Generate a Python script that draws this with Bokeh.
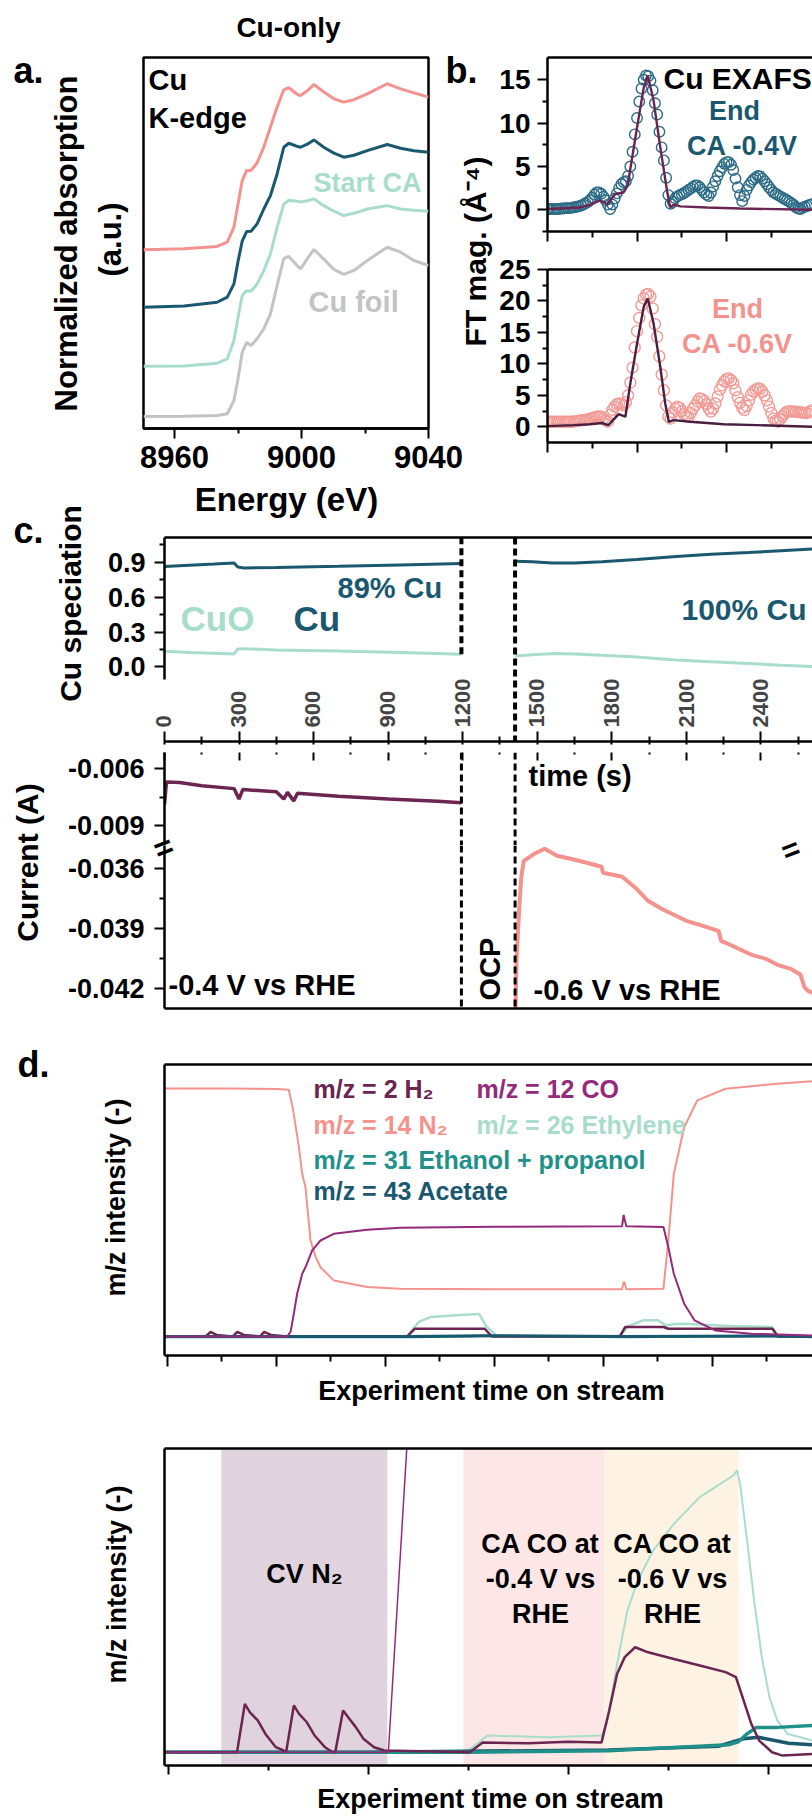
import math
from bokeh.plotting import figure
from bokeh.models import (Range1d, LinearAxis, FixedTicker, PrintfTickFormatter,
                          Label, Span, BoxAnnotation, CustomLabelingPolicy)
from bokeh.layouts import row, column
from bokeh.embed import file_html
from bokeh.resources import INLINE

FONT = "Liberation Sans"

PINK = "#F4928D"
TEAL = "#1A5870"
MINT = "#A8DDCC"
GREY = "#C3C3C3"
PLUM = "#6C2451"
PLUM_DARK = "#4A1E40"
MAGENTA = "#932A7C"
TEAL_MID = "#1F918A"
CIRCLE_TEAL = "#2C6B85"
CIRCLE_PINK = "#F39A95"
BAND_CV = "#E0D3DE"
BAND_CA04 = "#FCE6E6"
BAND_CA06 = "#FEF2E3"

# ---------------- a. Cu K-edge XANES ----------------
energy_ev = [8950.2, 8963.0, 8973.4, 8976.6, 8978.7, 8980.0, 8981.3, 8982.7, 8984.1,
             8986.0, 8988.1, 8990.2, 8992.3, 8994.4, 8996.0, 8998.6, 8999.7, 9001.8,
             9003.9, 9007.0, 9010.2, 9013.3, 9016.5, 9020.7, 9027.0, 9031.2, 9035.4, 9040.0]
xanes_cu_foil = [0.000, 0.002, 0.006, 0.017, 0.100, 0.238, 0.400, 0.463, 0.444, 0.486,
                 0.548, 0.642, 0.819, 0.988, 1.000, 0.944, 0.923, 0.986, 1.044, 0.984,
                 0.919, 0.888, 0.913, 0.975, 1.058, 1.027, 0.975, 0.944]
xanes_start_ca = [0.000, 0.002, 0.019, 0.046, 0.161, 0.306, 0.442, 0.472, 0.469, 0.514,
                  0.598, 0.702, 0.869, 1.014, 1.038, 1.031, 1.027, 1.034, 1.046, 1.004,
                  0.969, 0.942, 0.956, 0.983, 1.004, 0.983, 0.975, 0.969]
xanes_end_04 = [0.000, 0.008, 0.031, 0.063, 0.146, 0.288, 0.413, 0.473, 0.475, 0.521,
                0.614, 0.698, 0.833, 1.000, 1.025, 1.006, 1.000, 1.019, 1.046, 1.000,
                0.963, 0.938, 0.950, 0.979, 1.017, 0.994, 0.978, 0.969]
xanes_end_06 = [0.000, 0.006, 0.021, 0.048, 0.142, 0.288, 0.433, 0.496, 0.496, 0.544,
                0.642, 0.767, 0.892, 1.000, 1.013, 0.972, 0.964, 0.994, 1.033, 0.986,
                0.944, 0.923, 0.938, 0.975, 1.038, 1.006, 0.981, 0.954]
xanes_offsets = [0.075, 0.389, 0.758, 1.117]   # foil, start CA, end -0.4 V, end -0.6 V
energy_ticks = [8960, 9000, 9040]
energy_minor = [8980, 9020]

# ---------------- b. EXAFS |FT| ----------------
exafs_r = [0.00, 0.05, 0.10, 0.15, 0.20, 0.25, 0.30, 0.35, 0.40, 0.45, 0.50, 0.55, 0.60,
           0.65, 0.70, 0.75, 0.80, 0.85, 0.90, 0.95, 1.00, 1.05, 1.10, 1.15, 1.20, 1.25,
           1.30, 1.35, 1.40, 1.45, 1.50, 1.55, 1.60, 1.65, 1.70, 1.75, 1.80, 1.85, 1.90,
           1.95, 2.00, 2.05, 2.10, 2.15, 2.20, 2.25, 2.30, 2.35, 2.40, 2.45, 2.50, 2.55,
           2.60, 2.65, 2.70, 2.75, 2.80, 2.85, 2.90, 2.95, 3.00, 3.05, 3.10, 3.15, 3.20,
           3.25, 3.30, 3.35, 3.40, 3.45, 3.50, 3.55, 3.60, 3.65, 3.70, 3.75, 3.80, 3.85,
           3.90, 3.95, 4.00, 4.05, 4.10, 4.15, 4.20, 4.25, 4.30, 4.35, 4.40, 4.45, 4.50,
           4.55, 4.60, 4.65, 4.70, 4.75, 4.80, 4.85, 4.90, 4.95, 5.00, 5.05, 5.10, 5.15,
           5.20, 5.25, 5.30, 5.35, 5.40, 5.45, 5.50, 5.55, 5.60, 5.65, 5.70, 5.75, 5.80,
           5.85, 5.90]
exafs_mag_04 = [0.1, 0.1, 0.1, 0.1, 0.1, 0.1, 0.15, 0.15, 0.2, 0.2, 0.2, 0.25, 0.3,
                0.35, 0.4, 0.5, 0.6, 0.75, 0.9, 1.1, 1.4, 1.75, 2.0, 2.0, 1.85, 1.5,
                1.1, 0.6, 0.1, 0.6, 1.3, 1.9, 2.5, 2.95, 3.2, 3.3, 3.9, 5.0, 6.7,
                8.7, 10.6, 12.5, 14.0, 15.0, 15.5, 15.4, 14.9, 13.8, 12.3, 11.0, 9.0, 7.2,
                5.7, 3.7, 1.7, 0.7, 0.9, 1.35, 1.55, 1.7, 1.8, 1.95, 2.1, 2.3, 2.45,
                2.65, 2.8, 2.8, 2.6, 2.3, 2.0, 1.75, 1.6, 2.0, 2.7, 3.3, 3.9, 4.45,
                4.9, 5.3, 5.5, 5.5, 5.2, 4.6, 3.6, 2.6, 1.7, 1.0, 1.6, 2.3, 2.8,
                3.2, 3.5, 3.7, 3.9, 3.85, 3.6, 3.3, 2.95, 2.6, 2.3, 2.0, 1.85, 1.7,
                1.55, 1.4, 1.25, 1.1, 0.95, 0.75, 0.55, 0.3, 0.15, 0.1, 0.25, 0.35, 0.45,
                0.55, 0.65]
exafs_mag_06 = [0.8, 0.8, 0.8, 0.8, 0.8, 0.8, 0.8, 0.8, 0.8, 0.8, 0.8, 0.8, 0.85,
                0.9, 0.95, 1.0, 1.05, 1.1, 1.2, 1.3, 1.4, 1.5, 1.6, 1.65, 1.6, 1.3,
                1.0, 0.8, 1.9, 2.7, 3.2, 3.6, 3.7, 3.6, 3.4, 3.9, 5.0, 7.0, 9.4,
                12.6, 15.2, 17.3, 19.3, 20.4, 21.0, 21.1, 20.7, 18.8, 16.3, 14.3, 11.2, 8.3,
                5.8, 3.4, 1.6, 1.3, 2.3, 2.9, 3.2, 3.0, 2.5, 2.0, 1.7, 1.6, 2.2,
                2.9, 3.4, 4.0, 4.5, 4.4, 4.1, 3.6, 2.9, 2.4, 2.9, 3.7, 4.8, 5.9,
                6.6, 7.2, 7.6, 7.7, 7.4, 6.9, 5.8, 4.7, 3.8, 3.0, 2.65, 3.3, 4.2,
                5.1, 5.6, 5.9, 6.1, 6.0, 5.6, 5.0, 4.2, 3.2, 2.2, 1.3, 1.0, 0.8,
                1.2, 1.7, 2.1, 2.4, 2.45, 2.45, 2.4, 2.4, 2.35, 2.3, 2.25, 2.2, 2.2,
                2.4, 2.6]
fit_r_04 = [0.0, 0.73, 0.95, 1.18, 1.33, 1.51, 1.70, 1.79, 2.0, 2.15, 2.24, 2.37, 2.52,
            2.67, 2.74, 2.82, 2.97, 3.56, 4.31, 5.92]
fit_mag_04 = [0.1, 0.27, 0.6, 1.1, 0.65, 1.8, 2.0, 2.8, 9.5, 14.1, 15.5, 12.6, 7.2, 2.2,
              0.3, 0.6, 0.4, 0.27, 0.15, 0.0]
fit_r_06 = [0.0, 0.58, 0.95, 1.22, 1.36, 1.59, 1.74, 1.85, 2.0, 2.15, 2.24, 2.37, 2.52,
            2.63, 2.71, 2.82, 3.19, 3.94, 4.68, 5.92]
fit_mag_06 = [0.1, 0.26, 0.4, 0.6, 0.26, 2.0, 1.6, 6.9, 13.2, 19.1, 20.4, 16.4, 9.5, 3.7,
              0.8, 1.06, 0.8, 0.4, 0.26, 0.0]
r_ticks = [0, 2, 4, 6]
r_minor = [1, 3, 5]

# ---------------- c. speciation and current ----------------
time_ticks = [0, 300, 600, 900, 1200, 1500, 1800, 2100, 2400]
time_minor = [150, 450, 750, 1050, 1350, 1650, 1950, 2250, 2550]
ca_boundaries = [1195, 1411]          # end of CA at -0.4 V, start of CA at -0.6 V

spec_t_04 = [0, 100, 200, 280, 295, 320, 450, 700, 950, 1195]
spec_cu_04 = [0.865, 0.875, 0.885, 0.895, 0.86, 0.852, 0.855, 0.866, 0.878, 0.89]
spec_cuo_04 = [0.135, 0.125, 0.118, 0.112, 0.155, 0.158, 0.146, 0.138, 0.125, 0.11]
spec_t_06 = [1411, 1480, 1560, 1650, 1760, 1900, 2060, 2200, 2350, 2480, 2608]
spec_cu_06 = [0.91, 0.905, 0.895, 0.895, 0.905, 0.925, 0.95, 0.97, 0.985, 1.0, 1.015]
spec_cuo_06 = [0.095, 0.105, 0.115, 0.112, 0.1, 0.085, 0.06, 0.045, 0.03, 0.015, 0.003]

current_t_04 = [0, 8, 60, 150, 280, 300, 315, 450, 480, 495, 520, 535, 700, 900, 1100, 1195]
current_04 = [-0.0079, -0.0067, -0.00672, -0.0069, -0.00705, -0.0076, -0.0071, -0.00722,
              -0.0076, -0.00725, -0.0077, -0.0073, -0.00745, -0.0076, -0.00772, -0.0078]
current_t_06 = [1413, 1417, 1427, 1436, 1446, 1488, 1530, 1580, 1634, 1700, 1759, 1765,
                1842, 1900, 1946, 2000, 2050, 2100, 2154, 2230, 2240, 2259, 2310, 2363,
                2420, 2467, 2520, 2560, 2575, 2590, 2608]
current_06 = [-0.0430, -0.0405, -0.0381, -0.0364, -0.0356, -0.03525, -0.0350, -0.03535,
              -0.0355, -0.0357, -0.0359, -0.0362, -0.0364, -0.0370, -0.0376, -0.0380,
              -0.0383, -0.0386, -0.0388, -0.0391, -0.0396, -0.0397, -0.0400, -0.0403,
              -0.0405, -0.0408, -0.0410, -0.0413, -0.0419, -0.0421, -0.0422]

# ---------------- d. mass spectrometry ----------------
ms_t_n2 = [-0.055, 1.0, 2.0, 2.226, 2.30, 2.40, 2.472, 2.532, 2.624, 2.72, 2.807, 3.051,
           3.664, 4.275, 6.0, 8.34, 8.37, 8.39, 8.42, 9.10, 9.19, 9.29, 9.48, 9.72, 10.24,
           11.19, 11.835]
ms_n2 = [1.0, 1.0, 0.998, 0.995, 0.92, 0.78, 0.656, 0.602, 0.387, 0.32, 0.279, 0.226,
         0.199, 0.192, 0.19, 0.19, 0.22, 0.215, 0.19, 0.192, 0.387, 0.656, 0.844, 0.952,
         0.999, 1.019, 1.03]
ms_t_co = [-0.055, 2.20, 2.26, 2.318, 2.379, 2.472, 2.532, 2.655, 2.807, 3.051, 3.664,
           4.275, 6.0, 8.34, 8.37, 8.39, 8.42, 9.10, 9.19, 9.29, 9.48, 9.67, 10.05, 10.71,
           11.835]
ms_co = [0.0, 0.0, 0.02, 0.092, 0.172, 0.253, 0.279, 0.347, 0.387, 0.414, 0.430, 0.438,
         0.442, 0.444, 0.49, 0.47, 0.444, 0.441, 0.36, 0.253, 0.132, 0.065, 0.024, 0.011,
         0.004]
ms_t_h2 = [-0.055, 0.7, 0.79, 0.9, 1.2, 1.28, 1.4, 1.7, 1.77, 1.9, 2.2, 4.40, 4.54, 5.82,
           5.95, 8.30, 8.40, 9.10, 9.19, 11.10, 11.20, 11.835]
ms_h2 = [0.0, 0.0, 0.018, 0.006, 0.0, 0.018, 0.006, 0.0, 0.018, 0.006, 0.0, 0.0, 0.031,
         0.031, 0.0, 0.0, 0.038, 0.038, 0.031, 0.031, 0.0, 0.0]
ms_t_c2h4 = [-0.055, 4.40, 4.50, 4.62, 4.83, 5.3, 5.72, 5.85, 6.06, 8.30, 8.45, 8.72, 9.0,
             9.15, 9.3, 9.57, 10.3, 11.09, 11.2, 11.835]
ms_c2h4 = [0.0, 0.0, 0.03, 0.06, 0.078, 0.085, 0.09, 0.04, 0.0, 0.0, 0.04, 0.065, 0.065,
           0.044, 0.05, 0.05, 0.042, 0.038, 0.0, 0.0]
ms_t_etoh = [-0.055, 4.5, 5.8, 8.4, 11.1, 11.835]
ms_etoh = [-0.002, -0.002, 0.002, -0.002, 0.002, -0.002]
ms_t_acet = [-0.055, 4.5, 5.8, 8.4, 11.1, 11.835]
ms_acet = [0.0, 0.0, 0.003, 0.0, 0.002, 0.0]
ms_ticks = [0, 2, 4, 6, 8, 10]
ms_minor = [1, 3, 5, 7, 9, 11]

# zoomed run: CV in N2, then CA in CO at -0.4 V and -0.6 V vs RHE
zoom_bands = [(0.53, 2.19, BAND_CV), (2.95, 4.36, BAND_CA04), (4.36, 5.70, BAND_CA06)]
zoom_t_h2 = [-0.038, 0.687, 0.765, 0.816, 0.894, 0.971, 1.075, 1.152, 1.178, 1.255, 1.307,
             1.385, 1.462, 1.566, 1.643, 1.669, 1.747, 1.798, 1.876, 1.953, 2.057, 2.16,
             3.013, 3.142, 3.6, 4.0, 4.331, 4.408, 4.486, 4.563, 4.667, 4.797, 5.054,
             5.313, 5.571, 5.675, 5.752, 5.829, 5.907, 6.036, 6.14, 6.44]
zoom_h2 = [0.0, 0.0, 0.161, 0.133, 0.106, 0.061, 0.017, 0.006, 0.0, 0.156, 0.128, 0.1,
           0.056, 0.017, 0.0, 0.0, 0.139, 0.117, 0.083, 0.044, 0.017, 0.006, 0.0, 0.033,
           0.03, 0.035, 0.033, 0.139, 0.261, 0.317, 0.35, 0.333, 0.311, 0.289, 0.267,
           0.25, 0.172, 0.094, 0.039, 0.0, -0.011, -0.006]
zoom_t_co = [-0.038, 2.2, 2.40]
zoom_co = [0.0, 0.0, 1.1]
zoom_t_c2h4 = [-0.038, 2.9, 3.013, 3.19, 3.8, 4.331, 4.382, 4.434, 4.512, 4.589, 4.693,
               4.847, 5.054, 5.313, 5.519, 5.649, 5.685, 5.716, 5.778, 5.856, 5.933, 6.01,
               6.088, 6.192, 6.321, 6.44]
zoom_c2h4 = [0.0, 0.0, 0.01, 0.056, 0.05, 0.056, 0.094, 0.194, 0.339, 0.472, 0.572,
             0.672, 0.761, 0.85, 0.894, 0.922, 0.939, 0.894, 0.728, 0.506, 0.317, 0.183,
             0.106, 0.061, 0.05, 0.039]
zoom_t_etoh = [-0.038, 1.0, 2.0, 3.0, 4.4, 5.0, 5.6, 5.7, 5.78, 5.88, 6.09, 6.44]
zoom_etoh = [0.0, 0.0, 0.0, 0.0, 0.005, 0.015, 0.025, 0.035, 0.06, 0.083, 0.083, 0.089]
zoom_t_acet = [-0.038, 2.0, 4.4, 5.5, 5.75, 5.9, 6.05, 6.2, 6.44]
zoom_acet = [0.0, 0.0, 0.008, 0.02, 0.045, 0.05, 0.04, 0.03, 0.025]
zoom_ticks = [0, 2, 4, 6]
zoom_minor = [1, 3, 5]

# tick marks without numbers on the unlabeled axes
NO_LABELS = CustomLabelingPolicy(code="for (const i of indices) indices.unset(i)")


# ---------------- helpers ----------------
def base_fig(w, h, xr, yr, left=0, right=0, top=0, bottom=0):
    p = figure(width=w, height=h, x_range=Range1d(*xr), y_range=Range1d(*yr),
               output_backend="svg", toolbar_location=None,
               x_axis_location=None, y_axis_location=None,
               min_border_left=left, min_border_right=right,
               min_border_top=top, min_border_bottom=bottom)
    p.outline_line_color = None
    p.background_fill_color = "white"
    p.border_fill_color = "white"
    p.grid.visible = False
    return p


def axis(p, side, ticks=(), minor=(), out=0, inn=0, mout=0, minn=0,
         size=None, fmt=None, standoff=0, bounds=None):
    ax = LinearAxis(ticker=FixedTicker(ticks=list(ticks), minor_ticks=list(minor)))
    ax.axis_line_color = "black"
    ax.axis_line_width = 2.5
    ax.major_tick_line_color = "black"
    ax.minor_tick_line_color = "black"
    ax.major_tick_line_width = 2
    ax.minor_tick_line_width = 2
    ax.major_tick_out = out
    ax.major_tick_in = inn
    ax.minor_tick_out = mout
    ax.minor_tick_in = minn
    ax.major_label_standoff = standoff
    if size:
        ax.major_label_text_font = FONT
        ax.major_label_text_font_style = "bold"
        ax.major_label_text_font_size = f"{size}px"
        ax.major_label_text_color = "black"
        if fmt:
            ax.formatter = PrintfTickFormatter(format=fmt)
    else:
        ax.major_label_policy = NO_LABELS
        ax.major_label_text_font_size = "1px"
    if bounds is not None:
        ax.bounds = bounds
    p.add_layout(ax, side)
    return ax


# ---------------- a ----------------
a_x = (8950.2, 9040.0)
a_y = (0.0, 2.319)
fig_a = base_fig(495, 484, a_x, a_y, left=143, right=67, top=57, bottom=56)
fig_a.outline_line_color = "black"
fig_a.outline_line_width = 2.5
axis(fig_a, "below", energy_ticks, energy_minor, out=10, mout=5, size=31, fmt="%d",
     standoff=7)
spectra = [(xanes_cu_foil, GREY), (xanes_start_ca, MINT), (xanes_end_04, TEAL),
           (xanes_end_06, PINK)]
for (mu, col), off in zip(spectra, xanes_offsets):
    fig_a.line(energy_ev, [m + off for m in mu], line_color=col, line_width=3)

# ---------------- b ----------------
b_x = (0.0, 5.92)
bt_y = (-2.5, 17.57)
fig_bt = base_fig(317, 250, b_x, bt_y, left=52, top=57, bottom=19)
axis(fig_bt, "left", [0, 5, 10, 15], [-2.5, 2.5, 7.5, 12.5], out=10, mout=5, size=28,
     fmt="%d", standoff=7)
axis(fig_bt, "below", r_ticks, r_minor, out=10, mout=6)
axis(fig_bt, "above")
fig_bt.scatter(exafs_r, exafs_mag_04, marker="circle", size=10.5, fill_color=None,
               line_color=CIRCLE_TEAL, line_width=1.4)
fig_bt.line(fit_r_04, fit_mag_04, line_color=PLUM, line_width=2.4)

bb_y = (-2.5, 25.0)
fig_bb = base_fig(317, 234, b_x, bb_y, left=52, top=19, bottom=42)
axis(fig_bb, "left", [0, 5, 10, 15, 20, 25], [2.5, 7.5, 12.5, 17.5, 22.5], out=10, mout=5,
     size=28, fmt="%d", standoff=7)
axis(fig_bb, "below", r_ticks, r_minor, out=10, mout=6)
axis(fig_bb, "above")
fig_bb.scatter(exafs_r, exafs_mag_06, marker="circle", size=11, fill_color=None,
               line_color=CIRCLE_PINK, line_width=1.4)
fig_bb.line(fit_r_06, fit_mag_06, line_color=PLUM_DARK, line_width=2.4)

# ---------------- c: speciation ----------------
c_x = (0.0, 2608.0)
c1_y = (-0.641, 1.114)
fig_c1 = base_fig(812, 264, c_x, c1_y, left=163, top=53, bottom=3)
axis(fig_c1, "left", [0.0, 0.3, 0.6, 0.9], [0.15, 0.45, 0.75, 1.05], out=10, mout=5,
     size=27, fmt="%.1f", standoff=9, bounds=(-0.107, c1_y[1]))
axis(fig_c1, "below", time_ticks, time_minor, out=3, inn=10, mout=3, minn=5)
axis(fig_c1, "above")
fig_c1.line(spec_t_04, spec_cuo_04, line_color=MINT, line_width=3)
fig_c1.line(spec_t_04, spec_cu_04, line_color=TEAL, line_width=3)
fig_c1.line(spec_t_06, spec_cuo_06, line_color=MINT, line_width=3)
fig_c1.line(spec_t_06, spec_cu_06, line_color=TEAL, line_width=3)
fig_c1.segment(x0=[ca_boundaries[0]], y0=[spec_cuo_04[-1]], x1=[ca_boundaries[0]],
               y1=[c1_y[1]], line_color="black", line_width=4, line_dash="7 4")
fig_c1.add_layout(Span(location=ca_boundaries[1], dimension="height", line_color="black",
                       line_width=4, line_dash="7 4"))

# ---------------- c: current (broken axis) ----------------
c2_y = (-0.010061, -0.0051371)
fig_c2 = base_fig(812, 97, c_x, c2_y, left=163)
axis(fig_c2, "left", [-0.009, -0.006], [-0.0075], out=10, mout=5, size=27, fmt="%.3f",
     standoff=10)
# lower half of the time-axis ticks, continuing the ones drawn above
tick_tail = axis(fig_c2, "above", time_ticks, time_minor, inn=8, minn=2)
tick_tail.axis_line_color = None
fig_c2.line(current_t_04, current_04, line_color=PLUM, line_width=3.5)
for t in ca_boundaries:
    fig_c2.add_layout(Span(location=t, dimension="height", line_color="black",
                           line_width=3, line_dash="7 4"))

c3_y = (-0.042985, -0.034835)
fig_c3 = base_fig(812, 195, c_x, c3_y, left=163, bottom=32)
axis(fig_c3, "left", [-0.042, -0.039, -0.036], [-0.0405, -0.0375], out=10, mout=5,
     size=27, fmt="%.3f", standoff=10)
axis(fig_c3, "below")
fig_c3.line(current_t_06, current_06, line_color=PINK, line_width=4)
for t in ca_boundaries:
    fig_c3.add_layout(Span(location=t, dimension="height", line_color="black",
                           line_width=3, line_dash="7 4"))

# ---------------- d: full run ----------------
d1_x = (-0.055, 11.835)
d1_y = (-0.077, 1.097)
fig_d1 = base_fig(812, 380, d1_x, d1_y, left=164, top=24, bottom=65)
axis(fig_d1, "left")
axis(fig_d1, "below", ms_ticks, ms_minor, out=11, mout=6)
axis(fig_d1, "above")
fig_d1.line(ms_t_etoh, ms_etoh, line_color=TEAL_MID, line_width=2.5)
fig_d1.line(ms_t_c2h4, ms_c2h4, line_color=MINT, line_width=2.5)
fig_d1.line(ms_t_h2, ms_h2, line_color=PLUM, line_width=2.5)
fig_d1.line(ms_t_acet, ms_acet, line_color=TEAL, line_width=3)
fig_d1.line(ms_t_n2, ms_n2, line_color=PINK, line_width=2)
fig_d1.line(ms_t_co, ms_co, line_color=MAGENTA, line_width=2)

# ---------------- d: zoomed run ----------------
d2_x = (-0.038, 6.44)
d2_y = (-0.044, 1.012)
fig_d2 = base_fig(812, 398, d2_x, d2_y, left=163, top=28, bottom=53)
axis(fig_d2, "left")
axis(fig_d2, "below", zoom_ticks, zoom_minor, out=9, mout=5)
axis(fig_d2, "above")
for lo, hi, col in zoom_bands:
    fig_d2.add_layout(BoxAnnotation(left=lo, right=hi, fill_color=col, fill_alpha=1.0,
                                    line_color=None, level="underlay"))
fig_d2.line(zoom_t_c2h4, zoom_c2h4, line_color=MINT, line_width=2)
fig_d2.line(zoom_t_acet, zoom_acet, line_color=TEAL, line_width=3.5)
fig_d2.line(zoom_t_etoh, zoom_etoh, line_color=TEAL_MID, line_width=3.5)
fig_d2.line(zoom_t_h2, zoom_h2, line_color=PLUM, line_width=2.5)
fig_d2.line(zoom_t_co, zoom_co, line_color=MAGENTA, line_width=1.5)

page = column(
    row(fig_a, column(fig_bt, fig_bb)),
    fig_c1, fig_c2, fig_c3, fig_d1, fig_d2,
)
page.styles = {"position": "absolute", "left": "0px", "top": "0px"}

# ---------------- text layer (panel letters, axis titles, annotations) ----------------
notes = figure(width=812, height=1818, x_range=Range1d(0, 812), y_range=Range1d(1818, 0),
               output_backend="svg", toolbar_location=None,
               x_axis_location=None, y_axis_location=None,
               min_border_left=0, min_border_right=0, min_border_top=0, min_border_bottom=0)
notes.outline_line_color = None
notes.background_fill_color = None
notes.border_fill_color = None
notes.grid.visible = False
notes.styles = {"position": "absolute", "left": "0px", "top": "0px", "z-index": "10",
                "pointer-events": "none"}
# the speciation time axis shares this layer through its own time scale
c_scale = (812 - 163) / (c_x[1] - c_x[0])
notes.extra_x_ranges = {"time": Range1d(c_x[0] - 163 / c_scale, c_x[1])}

UP = math.pi / 2


def put(text, X, Y, size, color="black", align="left", baseline="alphabetic", angle=0.0):
    """Text at page pixel (X, Y); for horizontal text Y is the baseline."""
    if baseline == "alphabetic":
        Y -= 0.35 * size
        baseline = "middle"
    notes.add_layout(Label(x=X, y=Y, text=text, text_font=FONT, text_font_style="bold",
                           text_font_size=f"{size}px", text_color=color,
                           text_align=align, text_baseline=baseline, angle=angle))


# a
put("Cu-only", 288, 37, 28, align="center")
put("a.", 13, 83, 36)
put("Normalized absorption", 66, 243, 31, align="center", baseline="middle", angle=UP)
put("(a.u.)", 110, 239, 31, align="center", baseline="middle", angle=UP)
put("Cu", 148, 90, 29)
put("K-edge", 148, 128, 29)
put("Start CA", 313, 192, 27, color=MINT)
put("Cu foil", 308, 312, 29, color=GREY)
# b
put("b.", 445, 83, 36)
put("FT mag. (Å\u207b\u2074)", 475, 251, 30, align="center", baseline="middle", angle=UP)
put("Cu EXAFS", 663, 88, 30)
put("End", 734, 120, 27, color=TEAL, align="center")
put("CA -0.4V", 742, 155, 27, color=TEAL, align="center")
put("End", 737, 318, 27, color=PINK, align="center")
put("CA -0.6V", 737, 353, 27, color=PINK, align="center")
# c
put("Energy (eV)", 286, 511, 33, align="center")
put("c.", 13, 543, 36)
put("Cu speciation", 70, 603, 30, align="center", baseline="middle", angle=UP)
put("CuO", 180, 630, 35, color=MINT)
put("Cu", 293, 630, 35, color=TEAL)
put("89% Cu", 337, 598, 29, color=TEAL)
put("100% Cu", 681, 619, 30, color=TEAL)
for t in time_ticks:
    notes.add_layout(Label(x=t, y=727, x_range_name="time", text=str(t), angle=UP,
                           text_font=FONT, text_font_style="bold", text_font_size="22px",
                           text_align="left", text_baseline="middle"))
put("time (s)", 528, 786, 29)
put("Current (A)", 27, 862, 30, align="center", baseline="middle", angle=UP)
put("-0.4 V vs RHE", 168, 995, 29)
put("-0.6 V vs RHE", 533, 1000, 29)
put("OCP", 489, 1000, 29, baseline="middle", angle=UP)
put("=", 163, 847, 32, align="center", baseline="middle", angle=0.37)
put("=", 790, 849, 30, align="center", baseline="middle", angle=0.37)
# d
put("d.", 17, 1077, 36)
put("m/z intensity (-)", 115, 1197, 27, align="center", baseline="middle", angle=UP)
put("Experiment time on stream", 491, 1400, 27, align="center")
put("m/z = 2 H\u2082", 313, 1097, 25, color=PLUM)
put("m/z = 12 CO", 476, 1097, 25, color=MAGENTA)
put("m/z = 14 N\u2082", 313, 1133, 25, color=PINK)
put("m/z = 26 Ethylene", 476, 1133, 25, color=MINT)
put("m/z = 31 Ethanol + propanol", 313, 1168, 25, color=TEAL_MID)
put("m/z = 43 Acetate", 313, 1199, 25, color=TEAL)
put("m/z intensity (-)", 116, 1584, 27, align="center", baseline="middle", angle=UP)
put("Experiment time on stream", 490, 1808, 27, align="center")
put("CV N\u2082", 304, 1583, 27, align="center")
for cx, volt in ((540, "-0.4 V vs"), (672, "-0.6 V vs")):
    put("CA CO at", cx, 1553, 27, align="center")
    put(volt, cx, 1588, 27, align="center")
    put("RHE", cx, 1623, 27, align="center")

open("out.html", "w").write(file_html([page, notes], INLINE, "Cu-only"))
